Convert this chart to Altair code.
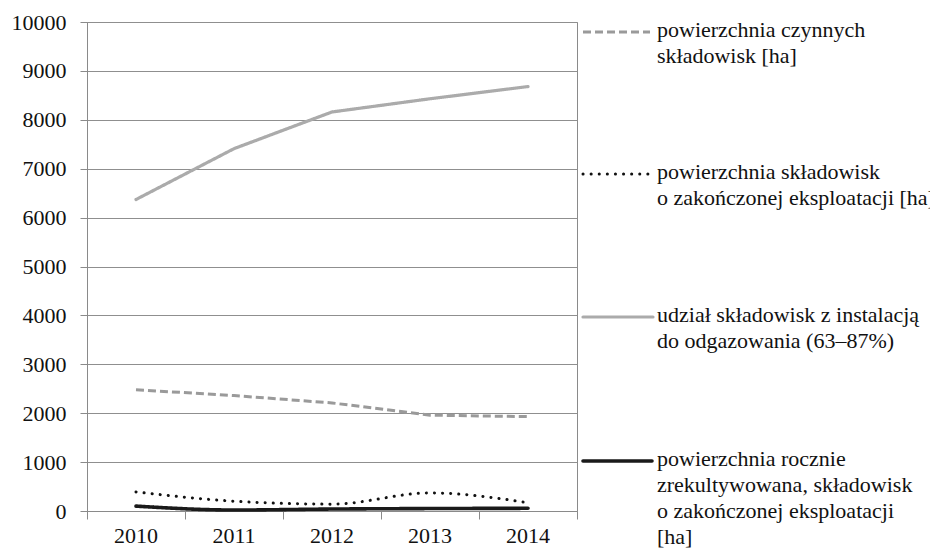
import altair as alt
import pandas as pd

# Years and series values (ha)
years = [2010, 2011, 2012, 2013, 2014]
czynne = [2480, 2360, 2210, 1960, 1930]
zakonczone = [390, 200, 140, 370, 170]
odgazowanie = [6370, 7410, 8160, 8430, 8680]
rekultywacja = [100, 20, 40, 50, 55]

legend_lines = [
    ["powierzchnia czynnych", "składowisk [ha]"],
    ["powierzchnia składowisk", "o zakończonej eksploatacji [ha]"],
    ["udział składowisk z instalacją", "do odgazowania (63–87%)"],
    ["powierzchnia rocznie", "zrekultywowana, składowisk", "o zakończonej eksploatacji", "[ha]"],
]
y_ticks = list(range(0, 10001, 1000))
x_boundaries = [2009.5, 2010.5, 2011.5, 2012.5, 2013.5, 2014.5]

FONT = "Liberation Serif, Times New Roman, serif"
W, H = 490, 489

# Per-series styling
styles = [
    dict(color="#9a9a9a", strokeWidth=3, strokeDash=[8, 4], strokeCap="butt", interp="linear"),
    dict(color="#111111", strokeWidth=3, strokeDash=[0.1, 8], strokeCap="round", interp="monotone"),
    dict(color="#ababab", strokeWidth=3.2, strokeDash=[1, 0], strokeCap="round", interp="linear"),
    dict(color="#1a1a1a", strokeWidth=3.6, strokeDash=[1, 0], strokeCap="round", interp="monotone"),
]
# Legend placement (pixels relative to the plot area's top-left)
legend_pos = [
    dict(y=10, x1=496, x2=563),
    dict(y=152, x1=496, x2=563),
    dict(y=295, x1=496, x2=566),
    dict(y=439, x1=496, x2=565),
]

values = [czynne, zakonczone, odgazowanie, rekultywacja]

x_scale = alt.Scale(domain=[2009.5, 2014.5], nice=False, zero=False)
y_scale = alt.Scale(domain=[0, 10000], nice=False)

layers = []

# Axes carrier: y axis with gridlines, x axis with ticks at category boundaries
axis_df = pd.DataFrame({"year": [2009.5, 2014.5], "v": [0, 10000]})
axes = alt.Chart(axis_df).mark_point(opacity=0).encode(
    x=alt.X("year:Q", scale=x_scale, title=None,
            axis=alt.Axis(values=x_boundaries, labels=False, tickSize=8,
                          tickColor="#8a8a8a", domainColor="#8a8a8a", grid=False)),
    y=alt.Y("v:Q", scale=y_scale, title=None,
            axis=alt.Axis(values=y_ticks, format="d", tickSize=7, labelPadding=14,
                          labelFont=FONT, labelFontSize=22, labelColor="#111111",
                          tickColor="#8a8a8a", domainColor="#8a8a8a",
                          grid=True, gridColor="#8f8f8f", gridWidth=1)),
)
layers.append(axes)

for vals, st in zip(values, styles):
    df = pd.DataFrame({"year": years, "v": vals})
    line = alt.Chart(df).mark_line(
        color=st["color"], strokeWidth=st["strokeWidth"], strokeDash=st["strokeDash"],
        strokeCap=st["strokeCap"], interpolate=st["interp"],
    ).encode(
        x=alt.X("year:Q", scale=x_scale),
        y=alt.Y("v:Q", scale=y_scale),
    )
    layers.append(line)

# Year labels under the axis
year_df = pd.DataFrame({"year": years, "label": [str(y) for y in years]})
year_labels = alt.Chart(year_df).mark_text(
    font=FONT, fontSize=22, color="#111111", baseline="top", align="center"
).encode(
    x=alt.X("year:Q", scale=x_scale),
    y=alt.value(H + 15),
    text="label:N",
)
layers.append(year_labels)

# Legend: sample line plus one text mark per label line
for lines, st, pos in zip(legend_lines, styles, legend_pos):
    sample = alt.Chart(pd.DataFrame({"k": [0]})).mark_rule(
        color=st["color"], strokeWidth=st["strokeWidth"], strokeDash=st["strokeDash"],
        strokeCap=st["strokeCap"],
    ).encode(x=alt.value(pos["x1"]), x2=alt.value(pos["x2"]), y=alt.value(pos["y"]))
    layers.append(sample)
    for j, txt in enumerate(lines):
        label = alt.Chart(pd.DataFrame({"k": [0]})).mark_text(
            font=FONT, fontSize=22, color="#111111", align="left", baseline="top",
            text=txt,
        ).encode(x=alt.value(570), y=alt.value(pos["y"] - 12 + 26 * j))
        layers.append(label)

chart = alt.layer(*layers).properties(
    width=W, height=H,
    autosize=alt.AutoSizeParams(type="none"),
    padding={"left": 87, "top": 22, "right": 930 - 87 - W, "bottom": 548 - 22 - H},
    background="white",
).configure(font=FONT).configure_view(stroke="#8a8a8a", strokeWidth=1)

chart.save("out.html", embed_options={"renderer": "svg", "actions": False})
